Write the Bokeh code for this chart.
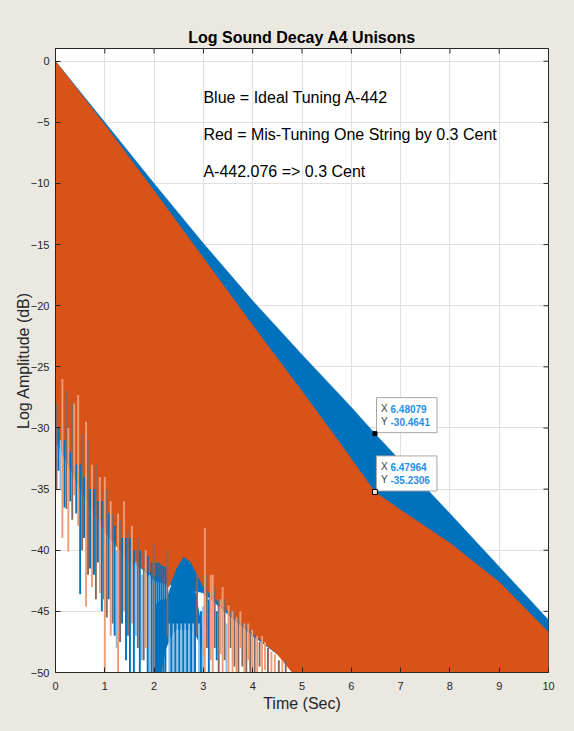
import math
from bokeh.plotting import figure
from bokeh.models import Range1d, FixedTicker, Label
from bokeh.embed import file_html
from bokeh.resources import INLINE

# ---------------- data ----------------
x_ticks = [0, 1, 2, 3, 4, 5, 6, 7, 8, 9, 10]
y_ticks = [-50, -45, -40, -35, -30, -25, -20, -15, -10, -5, 0]

# Blue (ideal tuning) envelope
t_blue = [0, 1, 2, 3, 4, 5, 6, 6.48079, 7, 8, 9, 10]
blue_top = [0, -5.0, -10.0, -14.9, -19.6, -24.0, -28.3, -30.4641, -32.7, -37.0, -41.35, -45.7]
blue_bot = [-31, -38.5, -42.5, -43.5, -47, -50, -50, -50, -50, -50, -50, -50]

# Red (mis-tuned) envelope
t_red = [0, 1, 2, 3, 4.22, 5, 5.8, 6.47964, 7, 8, 9, 10]
red_top = [0, -5.2, -10.6, -16.1, -22.8, -27.0, -31.4, -35.2306, -36.7, -39.4, -42.6, -46.7]
t_red_bot = [0, 0.25, 0.5, 1, 1.5, 2, 2.3, 2.45, 2.6, 2.75, 3, 3.5, 4, 4.5, 4.8, 10]
red_bot = [-31, -33, -35, -38.5, -41, -42, -43, -41.5, -40.5, -41, -43, -45, -46.8, -48.5, -50, -50]

# Blue bump visible below the red area
bump_t = [2.03, 2.15, 2.25, 2.35, 2.45, 2.6, 2.75, 2.85, 2.95, 3.02]
bump_top = [-44.5, -44.0, -44.0, -42.8, -41.6, -40.9, -42.0, -43.6, -45.8, -48.5]
bump_bot = [-50, -50, -48, -47, -46.5, -46.5, -46.5, -47, -48, -49]

# Spikes (zero crossings of the log signal): time, upper end, lower end
orange_t = [0.14, 0.26, 0.38, 0.46, 0.62, 0.74, 0.90, 1.00, 1.12, 1.27, 1.39, 1.55, 1.83,
            3.03, 3.15, 3.19, 3.35, 3.39, 3.51, 3.59, 3.67, 3.75, 3.83, 3.91, 3.99,
            4.09, 4.19, 4.25, 4.38, 4.45, 4.60]
orange_top = [-26, -30, -28, -27.3, -29.5, -33, -34, -34, -36, -37, -36, -38, -40,
              -38.2, -42, -42, -44, -43, -44.5, -45, -45.5, -45, -46, -46, -46.5,
              -47, -47, -47.5, -48.3, -48.5, -49]
orange_low = [-39, -40.1, -35.5, -38, -44.6, -43, -43.5, -50, -47, -50, -45, -46, -48,
              -50, -49, -50, -48.5, -50, -50, -50, -50, -48, -50, -49, -50,
              -50, -50, -49.8, -50, -50, -50]

blue_t = [0.06, 0.18, 0.30, 0.42, 0.50, 0.58, 0.70, 0.78, 0.86, 0.94, 1.08, 1.20, 1.35,
          1.43, 1.51, 1.59, 1.71, 1.87, 1.95, 2.03, 2.07, 2.11, 2.15, 2.19, 2.23,
          2.35, 2.43, 2.51, 2.59, 2.67, 2.75, 2.83, 2.95, 3.11, 3.27]
blue_stop = [-30, -31, -32, -33, -33, -34, -35, -35, -36, -36, -37, -38, -39,
             -39, -39, -40, -40, -40.5, -41, -41, -41, -41, -41.2, -41.3, -41.4,
             -44, -44, -44, -44, -44, -44, -44.5, -45, -44, -45]
blue_low = [-33.5, -36.5, -36, -37, -43.6, -39, -41.5, -42, -41, -45, -44, -47, -46,
            -49, -50, -50, -50, -50, -50, -50, -50, -50, -50, -50, -50,
            -50, -50, -50, -50, -50, -50, -50, -50, -50, -49]

lblue_t = [0.10, 1.24, 1.63, 1.75, 1.91, 2.31, 2.39, 2.47, 2.55, 2.63, 2.71, 2.79,
           2.91, 2.99, 3.47]
lblue_top = [-31, -40, -41, -42, -42, -46, -46, -46, -46, -46, -46, -46,
             -46, -44.6, -46]
lblue_low = [-35, -48, -47, -49, -50, -50, -50, -50, -50, -50, -50, -50,
             -50, -50, -50]

gray_t = [0.02, 0.22, 0.34, 0.54, 0.66, 0.82, 0.98, 1.04, 1.16, 1.31, 1.47, 1.67, 1.79,
          1.99, 2.27, 2.87, 3.07, 3.23, 3.31, 3.43, 3.55, 3.63, 3.71, 3.79, 3.87,
          3.95, 4.04, 4.14, 4.31, 4.53, 4.67]
gray_top = [-28, -27, -28, -30.5, -31, -33, -35, -35, -37, -37.5, -38.5, -39, -40,
            -39.5, -40, -42, -42, -43, -44, -44, -45, -45, -45.5, -46, -46,
            -46.5, -47, -47.5, -48, -49, -49]
gray_low = [-35, -36.6, -37.5, -40, -42, -44, -44, -45.5, -46, -47.5, -47, -48, -49,
            -50, -47, -47, -48, -48, -50, -49, -48, -49.5, -50, -49.5, -50,
            -50, -50, -49.5, -50, -50, -50]

# Data tips
tips_x = [6.48079, 6.47964]
tips_y = [-30.4641, -35.2306]
tips_xt = ["6.48079", "6.47964"]
tips_yt = ["-30.4641", "-35.2306"]

notes = ["Blue = Ideal Tuning A-442",
         "Red = Mis-Tuning One String by 0.3 Cent",
         "A-442.076 => 0.3 Cent"]
notes_x = 3.0
notes_y = [-3, -6, -9]

# ---------------- styling ----------------
BLUE = "#0072BD"
RED = "#D95319"
BG = "#EBE8E2"
AX = "#262626"
FONT = "Liberation Sans"

W, H = 572, 729
ML, MR, MT, MB = 55, 24, 48, 57
FW, FH = W - ML - MR, H - MT - MB
XR = (0, 10)
YR = (-50, 1.04)

p = figure(width=W, height=H, output_backend="svg", toolbar_location=None,
           x_range=Range1d(*XR), y_range=Range1d(*YR),
           min_border_left=ML, min_border_right=MR, min_border_top=MT, min_border_bottom=MB,
           background_fill_color="white", border_fill_color=BG)

p.title.text = "Log Sound Decay A4 Unisons"
p.title.align = "center"
p.title.text_font = FONT
p.title.text_font_size = "16px"
p.title.text_font_style = "bold"
p.title.text_color = "black"
p.title.standoff = 6

p.outline_line_color = AX
p.outline_line_width = 1

for ax in (p.xaxis[0], p.yaxis[0]):
    ax.major_tick_in = 5
    ax.major_tick_out = 0
    ax.minor_tick_line_color = None
    ax.axis_line_color = AX
    ax.major_tick_line_color = AX
    ax.major_label_text_font = FONT
    ax.major_label_text_font_size = "11px"
    ax.major_label_text_color = AX
    ax.axis_label_text_font = FONT
    ax.axis_label_text_font_size = "16px"
    ax.axis_label_text_font_style = "normal"
    ax.axis_label_text_color = AX

p.xaxis.ticker = FixedTicker(ticks=x_ticks)
p.yaxis.ticker = FixedTicker(ticks=y_ticks)
p.xaxis.axis_label = "Time (Sec)"
p.yaxis.axis_label = "Log Amplitude (dB)"
p.xaxis.major_label_standoff = 9
p.xaxis.axis_label_standoff = 2
p.yaxis.major_label_standoff = 6
p.yaxis.axis_label_standoff = -4

p.xgrid.ticker = FixedTicker(ticks=x_ticks)
p.ygrid.ticker = FixedTicker(ticks=y_ticks)
p.grid.grid_line_color = "#E0E0E0"
p.grid.grid_line_width = 1

# fills
p.patch(t_blue + t_blue[::-1], blue_top + blue_bot[::-1], color=BLUE, line_width=0.5)
p.varea(x=bump_t, y1=bump_bot, y2=bump_top, color=BLUE)
p.patch(t_red + t_red_bot[::-1], red_top + red_bot[::-1], color=RED, line_width=0.5)

# spikes
SW = 1.9
p.segment(x0=lblue_t, y0=lblue_top, x1=lblue_t, y1=lblue_low, line_color="#8DBDE6", line_width=SW)
p.segment(x0=blue_t, y0=blue_stop, x1=blue_t, y1=blue_low, line_color=BLUE, line_width=SW)
p.segment(x0=gray_t, y0=gray_top, x1=gray_t, y1=gray_low, line_color="#86675F", line_width=SW)
p.segment(x0=orange_t, y0=orange_top, x1=orange_t, y1=orange_low, line_color="#EE9C76", line_width=SW)

# inward ticks on the top and right edges (clipped to the frame)
p.scatter(x=x_ticks, y=[YR[1]] * len(x_ticks), marker="dash", angle=math.pi / 2, size=10,
          line_color=AX, line_width=1)
p.scatter(x=[XR[1]] * len(y_ticks), y=y_ticks, marker="dash", size=10, line_color=AX, line_width=1)

# annotations
for txt, yy in zip(notes, notes_y):
    p.add_layout(Label(x=notes_x, y=yy, text=txt, text_font=FONT, text_font_size="16px",
                       text_color="black", text_baseline="middle", text_align="left"))

# data tips
dx = (XR[1] - XR[0]) / FW
dy = (YR[1] - YR[0]) / FH
bl = [x + 1.5 * dx for x in tips_x]
br = [x + 62 * dx for x in tips_x]
bb = [y + 1 * dy for y in tips_y]
bt = [y + 36 * dy for y in tips_y]
p.quad(left=bl, right=br, bottom=bb, top=bt, fill_color="white", line_color="#A8A8A8", line_width=1)
p.scatter(tips_x[:1], tips_y[:1], marker="square", size=4, fill_color="black", line_color="black")
p.scatter(tips_x[1:], tips_y[1:], marker="square", size=5, fill_color="#F5E6C8", line_color="black")
for x, y, xt, yt in zip(tips_x, tips_y, tips_xt, tips_yt):
    for lab, num, off in (("X", xt, 25), ("Y", yt, 12)):
        p.add_layout(Label(x=x, y=y, x_offset=6, y_offset=off, text=lab, text_font=FONT,
                           text_font_size="10px", text_color="#404040", text_baseline="middle"))
        p.add_layout(Label(x=x, y=y, x_offset=15.5, y_offset=off, text=num, text_font=FONT,
                           text_font_size="10px", text_font_style="bold", text_color="#1F8FE5",
                           text_baseline="middle"))

html = file_html(p, INLINE)
html = html.replace("</head>", "<style>body{background:%s;}</style></head>" % BG, 1)
open("out.html", "w").write(html)
